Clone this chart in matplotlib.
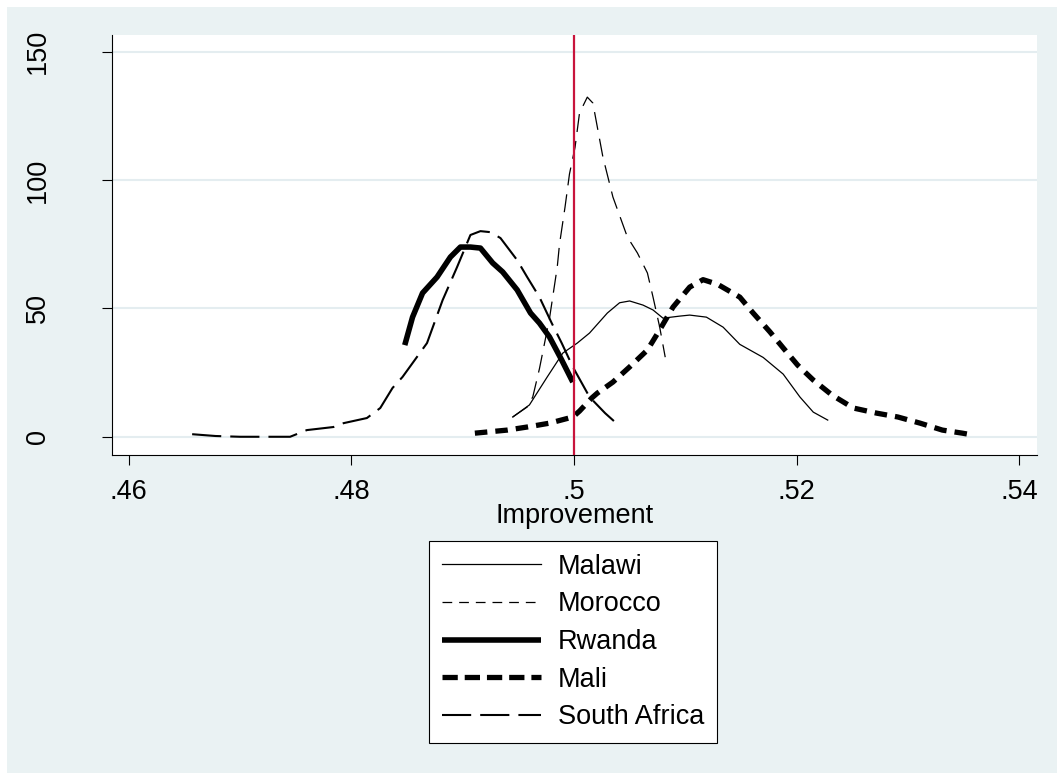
import matplotlib
matplotlib.use("Agg")
import matplotlib.pyplot as plt
from matplotlib.patches import Rectangle
from matplotlib.lines import Line2D

plt.rcParams['font.family'] = ['Liberation Sans', 'DejaVu Sans']
plt.rcParams['lines.scale_dashes'] = False

# density estimates (x = improvement, y = density)
malawi_x = [.4945, .4960, .4976, .4990, .5003, .5014, .5030, .5041, .5050, .5062,
            .5071, .5080, .5095, .5104, .5119, .5134, .5149, .5170, .5188, .5203,
            .5215, .5228]
malawi_y = [7.7, 12.4, 23.3, 32.6, 36.5, 40.4, 48.2, 52.2, 52.9, 51.3,
            49.4, 46.2, 47.0, 47.4, 46.6, 42.7, 36.0, 30.9, 24.4, 15.5,
            9.6, 6.5]

morocco_x = [.4945, .4958, .4963, .4969, .4978, .4985, .4987, .4992, .4996, .5001,
             .5005, .5012, .5017, .5026, .5035, .5048, .5057, .5066, .5071, .5077,
             .5082]
morocco_y = [7.7, 11.6, 15.5, 26.5, 46.0, 66.1, 74.9, 89.5, 102.4, 112.8,
             126.1, 132.3, 130.0, 109.0, 93.4, 77.8, 71.6, 63.8, 54.5, 42.8,
             31.0]

rwanda_x = [.4848, .4855, .4864, .4877, .4889, .4898, .4907, .4916, .4927, .4936,
            .4949, .4961, .4969, .4978, .4989, .4999]
rwanda_y = [35.7, 46.6, 56.0, 62.2, 70.0, 73.9, 73.9, 73.5, 67.7, 64.2,
            57.2, 48.2, 44.3, 38.9, 29.9, 21.3]

mali_x = [.4911, .4940, .4958, .4978, .4999, .5005, .5016, .5021, .5035, .5050,
          .5066, .5077, .5089, .5104, .5116, .5129, .5149, .5161, .5176, .5188,
          .5201, .5215, .5232, .5251, .5272, .5291, .5311, .5331, .5349, .5358]
mali_y = [1.4, 2.6, 3.8, 5.3, 7.7, 10.0, 15.1, 17.0, 21.3, 27.2,
          33.8, 41.6, 50.5, 58.3, 61.2, 59.4, 54.4, 48.2, 40.9, 34.6,
          27.9, 22.1, 16.2, 11.2, 9.2, 7.7, 5.3, 2.6, 1.4, 0.7]

safrica_x = [.4657, .4678, .4700, .4727, .4745, .4760, .4784, .4793, .4814, .4826,
             .4837, .4846, .4855, .4868, .4882, .4895, .4907, .4916, .4925, .4934,
             .4949, .4958, .4969, .4980, .4989, .4999, .5014, .5028, .5037]
safrica_y = [1.0, 0.3, 0.0, 0.0, 0.0, 2.6, 3.8, 5.3, 7.3, 11.2,
             19.0, 23.3, 28.7, 36.5, 53.2, 66.1, 78.6, 80.1, 79.7, 77.4,
             68.8, 62.2, 54.4, 44.3, 36.5, 27.2, 15.5, 9.2, 5.7]

xticks = [.46, .48, .5, .52, .54]
xlabels = ['.46', '.48', '.5', '.52', '.54']
yticks = [0, 50, 100, 150]

bg = '#EAF2F3'
W, H = 1057, 773
fs = 19.5

fig = plt.figure(figsize=(W / 100, H / 100), dpi=100)
fig.patches.append(Rectangle((7 / W, 0), 1 - 7 / W, 1 - 7 / H, transform=fig.transFigure,
                             facecolor=bg, edgecolor='none', zorder=-10))
ax = fig.add_axes([112 / W, (H - 455) / H, (1037 - 112) / W, (455 - 35) / H])
ax.set_facecolor('white')

# curves
ax.plot(malawi_x, malawi_y, color='black', lw=0.9)
ax.plot(morocco_x, morocco_y, color='black', lw=0.9, dashes=(13, 6.5))
ax.plot(rwanda_x, rwanda_y, color='black', lw=4.0, solid_capstyle='butt')
ax.plot(mali_x, mali_y, color='black', lw=3.8, dashes=(9, 5.8), dash_capstyle='butt')
ax.plot(safrica_x, safrica_y, color='black', lw=1.5, dashes=(21, 6.5))

ax.axvline(0.5, color='#C8143C', lw=1.6, zorder=5)

ax.set_xlim(.4585, .5416)
ax.set_ylim(-7.1, 156.5)
ax.set_xticks(xticks)
ax.set_xticklabels(xlabels)
ax.set_yticks(yticks)
ax.grid(axis='y', color='#E4EDF0', lw=1.5)
ax.set_axisbelow(True)

for s in ['top', 'right']:
    ax.spines[s].set_visible(False)
for s in ['left', 'bottom']:
    ax.spines[s].set_linewidth(0.8)

ax.tick_params(axis='x', length=7.2, width=0.8, pad=10, labelsize=fs)
ax.tick_params(axis='y', length=7.2, width=0.8, pad=37, labelsize=fs)
for lab in ax.get_yticklabels():
    lab.set_rotation(90)
    lab.set_va('center')
    lab.set_ha('right')

ax.set_xlabel('Improvement', fontsize=fs, labelpad=-1.5)

# legend
handles = [
    Line2D([], [], color='black', lw=0.9),
    Line2D([], [], color='black', lw=0.9, dashes=(7, 5)),
    Line2D([], [], color='black', lw=4.0, solid_capstyle='butt'),
    Line2D([], [], color='black', lw=3.8, dashes=(11, 5), dash_capstyle='butt'),
    Line2D([], [], color='black', lw=1.5, dashes=(21, 6.5)),
]
names = ['Malawi', 'Morocco', 'Rwanda', 'Mali', 'South Africa']
leg = fig.legend(handles, names, loc='upper left', bbox_to_anchor=(429 / W, 1 - 541 / H),
                 fontsize=fs, handlelength=3.66, handletextpad=0.63, labelspacing=0.43,
                 borderpad=0.47, borderaxespad=0, fancybox=False, framealpha=1,
                 edgecolor='black')
leg.get_frame().set_linewidth(0.8)

fig.savefig('out.png', dpi=100)
